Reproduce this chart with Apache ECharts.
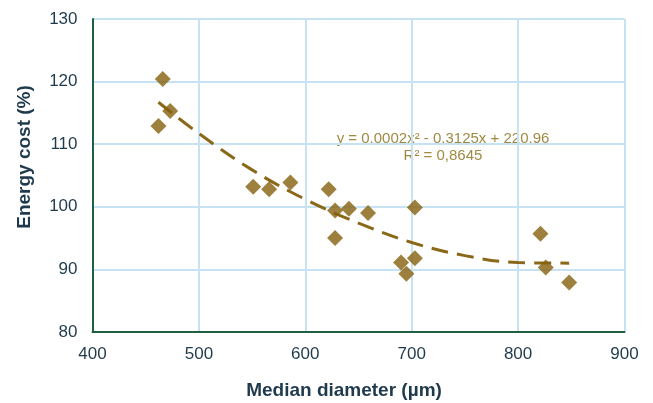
<!DOCTYPE html>
<html><head><meta charset="utf-8">
<script src="https://cdn.jsdelivr.net/npm/echarts@6/dist/echarts.min.js"></script>
<style>html,body{margin:0;padding:0;background:#fff;overflow:hidden}#c{width:653px;height:403px}</style>
</head><body><div id="c"></div>
<script>
const diameter = [462, 466, 473, 551, 566, 586, 622, 628, 628, 641, 659, 690, 695, 703, 703, 821, 826, 848];
const energyCost = [112.9, 120.4, 115.3, 103.2, 102.8, 103.9, 102.8, 99.4, 95.0, 99.7, 99.0, 91.1, 89.3, 91.8, 99.9, 95.7, 90.3, 87.9];
const trendX = [462, 500, 550, 600, 650, 700, 750, 800, 848];
const trendY = [116.7, 111.7, 105.9, 101.2, 97.4, 94.3, 92.2, 91.1, 91.0];
const xTitle = 'Median diameter (µm)';
const yTitle = 'Energy cost (%)';
const eqLine1 = 'y = 0,0002x² - 0,3125x + 220,96';
const eqLine2 = 'R² = 0,8645';

const chart = echarts.init(document.getElementById('c'));
const navy = '#1F3A4C';
const font = '"Liberation Sans", Arial, sans-serif';
chart.setOption({
  animation: false,
  grid: {left: 92.5, right: 28.5, top: 19, bottom: 71, containLabel: false, outerBoundsMode: 'none'},
  xAxis: {
    type: 'value', min: 400, max: 900, interval: 100,
    axisLine: {show: true, lineStyle: {color: '#1E6040', width: 2}},
    axisTick: {show: false},
    axisLabel: {fontFamily: font, fontSize: 17, color: navy, margin: 14},
    splitLine: {show: true, lineStyle: {color: '#C6E2F3', width: 2}}
  },
  yAxis: {
    type: 'value', min: 80, max: 130, interval: 10,
    axisLine: {show: true, lineStyle: {color: '#1E6040', width: 2}},
    axisTick: {show: false},
    axisLabel: {fontFamily: font, fontSize: 17, color: navy, margin: 15},
    splitLine: {show: true, lineStyle: {color: '#C6E2F3', width: 2}}
  },
  series: [
    {
      type: 'line', data: trendX.map((x, i) => [x, trendY[i]]), smooth: 0.4,
      symbol: 'none', z: 2,
      lineStyle: {color: '#8A6818', width: 3, type: [17, 9]}
    },
    {
      type: 'scatter', data: diameter.map((x, i) => [x, energyCost[i]]),
      symbol: 'diamond', symbolSize: [16, 16], z: 3,
      itemStyle: {color: '#84600C'}
    }
  ],
  graphic: [
    {type: 'text', x: 344, y: 391, style: {text: xTitle, textAlign: 'center', textVerticalAlign: 'middle', fill: navy, font: 'bold 19px ' + font}},
    {type: 'text', x: 25, y: 157, rotation: Math.PI / 2, style: {text: yTitle, textAlign: 'center', textVerticalAlign: 'middle', fill: navy, font: 'bold 19px ' + font}},
    {type: 'text', x: 443, y: 139, style: {text: eqLine1, textAlign: 'center', textVerticalAlign: 'middle', fill: '#A08A42', font: '15px ' + font}},
    {type: 'text', x: 443, y: 156, style: {text: eqLine2, textAlign: 'center', textVerticalAlign: 'middle', fill: '#A08A42', font: '15px ' + font}}
  ]
});
</script></body></html>
